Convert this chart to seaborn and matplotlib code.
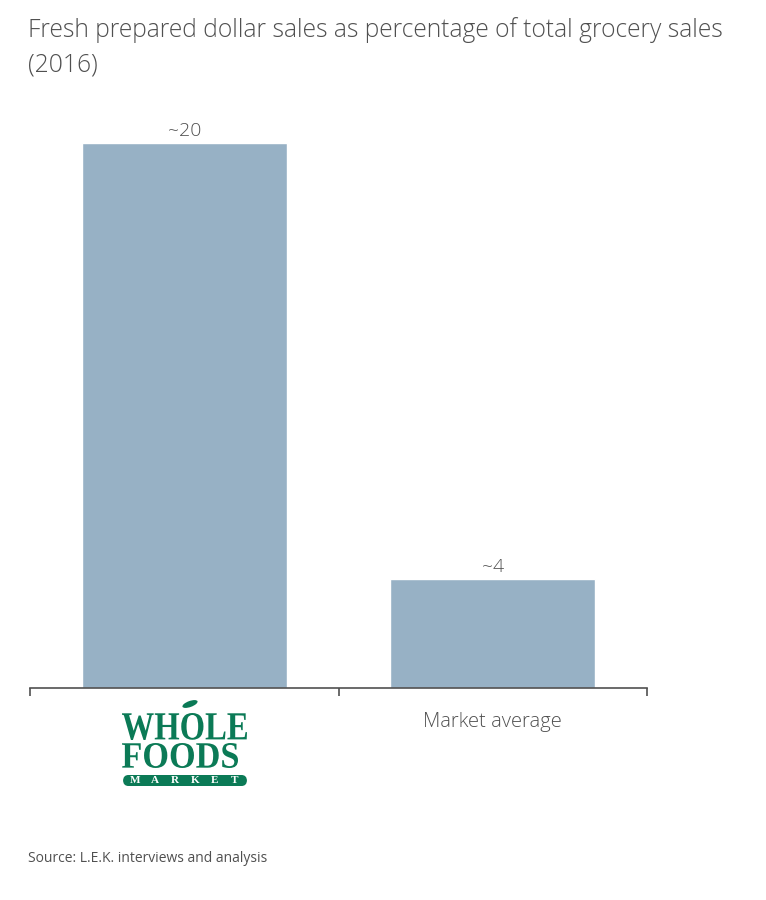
import matplotlib
matplotlib.use("Agg")
import matplotlib.pyplot as plt
import seaborn as sns
import pandas as pd
from matplotlib.textpath import TextPath
from matplotlib.font_manager import FontProperties
from matplotlib.patches import PathPatch, FancyBboxPatch, Ellipse
from matplotlib.transforms import Affine2D

# Data
categories = ["Whole Foods Market", "Market average"]
values = [20, 4]
value_labels = ["~20", "~4"]
tick_labels = ["", "Market average"]

title = "Fresh prepared dollar sales as percentage of total grocery sales\n(2016)"
source = "Source: L.E.K. interviews and analysis"

bar_color = "#97b1c5"
text_color = "#505050"
logo_green = "#0b7a56"

sns.set_theme(style="white")
plt.rcParams["font.family"] = ["Open Sans", "DejaVu Sans"]

df = pd.DataFrame({"category": categories, "value": values})

fig = plt.figure(figsize=(7.66, 9), dpi=100)
ax = fig.add_axes([30 / 766, 212 / 900, 617 / 766, 588 / 900])

sns.barplot(data=df, x="category", y="value", color=bar_color,
            saturation=1, width=0.665, ax=ax)

ax.set_xlim(-0.5, 1.5)
ax.set_ylim(0, 20 * 588 / 545)
ax.set_xlabel("")
ax.set_ylabel("")
ax.set_yticks([])
ax.set_xticks(range(len(categories)))
ax.set_xticklabels(tick_labels, fontsize=14.5, color=text_color, fontweight="light")
ax.tick_params(axis="x", which="major", length=0, pad=17)
ax.set_xticks([-0.5, 0.5, 1.5], minor=True)
ax.tick_params(axis="x", which="minor", bottom=True, length=6, width=1.2,
               color=text_color, direction="out")

for s in ["top", "left", "right"]:
    ax.spines[s].set_visible(False)
ax.spines["bottom"].set_color(text_color)
ax.spines["bottom"].set_linewidth(1.2)

for i, (v, lab) in enumerate(zip(values, value_labels)):
    ax.annotate(lab, (i, v), xytext=(0, 2), textcoords="offset points",
                ha="center", va="bottom", fontsize=14, color=text_color,
                fontweight="light")

fig.text(28 / 766, 1 - 17 / 900, title, ha="left", va="top", fontsize=17.75,
         color=text_color, fontweight="light", linespacing=1.52)
fig.text(28 / 766, 1 - 858 / 900, source, ha="left", va="center", fontsize=10,
         color=text_color)


def draw_word(word, x0, x1, y0, y1, color):
    # word drawn as a path in pixel coords, squeezed into the given box
    fp = FontProperties(family="Liberation Serif", weight="bold")
    tp = TextPath((0, 0), word, size=40, prop=fp)
    bb = tp.get_extents()
    tr = (Affine2D().translate(-bb.x0, -bb.y0)
          .scale((x1 - x0) / bb.width, (y1 - y0) / bb.height)
          .translate(x0, 900 - y1))
    fig.add_artist(PathPatch(tr.transform_path(tp), facecolor=color,
                             edgecolor="none", transform=None))


# Whole Foods Market logo under the first bar
draw_word("WHOLE", 122, 247, 713, 740, logo_green)
draw_word("FOODS", 122, 238, 743, 768, logo_green)
fig.add_artist(Ellipse((190, 900 - 704), 16, 6, angle=20, facecolor=logo_green,
                       edgecolor="none", transform=None))
fig.add_artist(FancyBboxPatch((123 / 766, 1 - 786 / 900), 124 / 766, 11 / 900,
                              boxstyle="round,pad=0,rounding_size=0.007",
                              transform=fig.transFigure, facecolor=logo_green,
                              edgecolor="none"))
for k, ch in enumerate("MARKET"):
    fig.text((135 + k * 20) / 766, 1 - 780.5 / 900, ch, ha="center", va="center",
             fontsize=8, color="white", fontweight="bold",
             family="Liberation Serif")

fig.savefig("out.png", dpi=100)
